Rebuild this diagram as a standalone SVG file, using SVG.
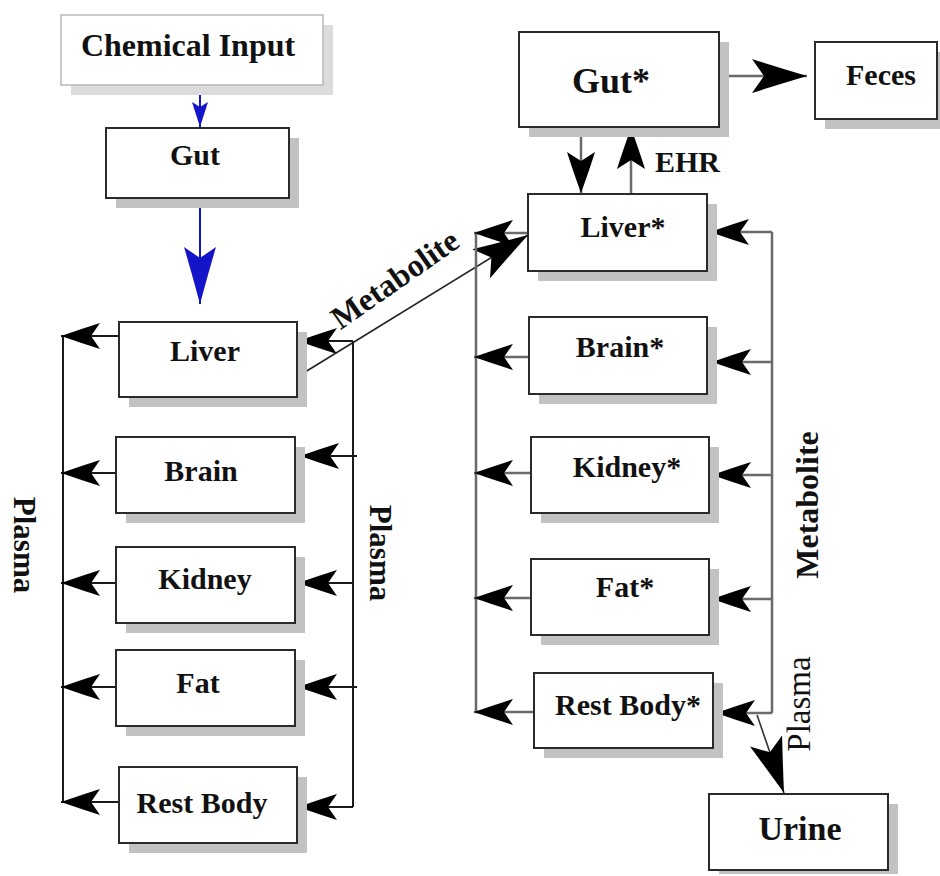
<svg xmlns="http://www.w3.org/2000/svg" width="940" height="876" viewBox="0 0 940 876">
<style>
.box{fill:#fff;stroke:#2a2a2a;stroke-width:2}
.shd{fill:#c2c2c2}
.t{font-family:"Liberation Serif","Times New Roman",serif;font-weight:bold;font-size:30px;fill:#111;text-anchor:middle}
.lk{fill:none;stroke:#1a1a1a;stroke-width:2}
.lg{fill:none;stroke:#6a6a6a;stroke-width:2.5}
.lb{fill:none;stroke:#1414c8;stroke-width:2}
</style>
<defs>
<marker id="aS" markerUnits="userSpaceOnUse" markerWidth="60" markerHeight="40" viewBox="-58 -20 60 40" refX="0" refY="0" orient="auto" overflow="visible">
<path d="M0,0 Q-20,-7 -39,-13 L-30,0 L-39,13 Q-20,7 0,0 Z" fill="#000"/>
</marker>
<marker id="aM" markerUnits="userSpaceOnUse" markerWidth="60" markerHeight="40" viewBox="-58 -20 60 40" refX="0" refY="0" orient="auto" overflow="visible">
<path d="M0,0 Q-22,-8 -41,-14 L-32,0 L-41,14 Q-22,8 0,0 Z" fill="#000"/>
</marker>
<marker id="aL" markerUnits="userSpaceOnUse" markerWidth="60" markerHeight="40" viewBox="-58 -20 60 40" refX="0" refY="0" orient="auto" overflow="visible">
<path d="M0,0 Q-30,-9 -55,-17 L-43,0 L-55,17 Q-30,9 0,0 Z" fill="#000"/>
</marker>
<marker id="bS" markerUnits="userSpaceOnUse" markerWidth="60" markerHeight="40" viewBox="-58 -20 60 40" refX="0" refY="0" orient="auto" overflow="visible">
<path d="M0,0 L-25,-8 L-20,0 L-25,8 Z" fill="#1414c8"/>
</marker>
<marker id="bL" markerUnits="userSpaceOnUse" markerWidth="60" markerHeight="40" viewBox="-58 -20 60 40" refX="0" refY="0" orient="auto" overflow="visible">
<path d="M0,0 Q-30,-8 -57,-16 L-46,0 L-57,16 Q-30,8 0,0 Z" fill="#1414c8"/>
</marker>
</defs>
<rect width="940" height="876" fill="#fff"/>

<g id="connectors">
<line class="lb" x1="200" y1="88" x2="200" y2="127" marker-end="url(#bS)"/>
<line class="lb" x1="200" y1="198" x2="200" y2="304" marker-end="url(#bL)"/>
<polyline class="lk" points="119,336 63,336 63,802"/>
<line class="lk" x1="119" y1="336" x2="61" y2="336" marker-end="url(#aS)"/>
<line class="lk" x1="116" y1="473" x2="61" y2="473" marker-end="url(#aS)"/>
<line class="lk" x1="116" y1="583" x2="61" y2="583" marker-end="url(#aS)"/>
<line class="lk" x1="116" y1="687" x2="61" y2="687" marker-end="url(#aS)"/>
<line class="lk" x1="119" y1="802" x2="61" y2="802" marker-end="url(#aS)"/>
<line class="lk" x1="353" y1="341" x2="353" y2="807"/>
<line class="lk" x1="353" y1="341" x2="298" y2="341" marker-end="url(#aS)"/>
<line class="lk" x1="357" y1="456" x2="300" y2="456" marker-end="url(#aS)"/>
<line class="lk" x1="353" y1="583" x2="298" y2="583" marker-end="url(#aS)"/>
<line class="lk" x1="357" y1="687" x2="298" y2="687" marker-end="url(#aS)"/>
<line class="lk" x1="353" y1="807" x2="298" y2="807" marker-end="url(#aS)"/>
<line x1="297" y1="377" x2="528" y2="235" stroke="#222" stroke-width="1.6" marker-end="url(#aL)"/>
<text class="t" transform="translate(401,288) rotate(-35)" style="font-size:32px">Metabolite</text>
<line class="lg" x1="476" y1="233" x2="476" y2="712"/>
<line class="lg" x1="528" y1="233" x2="474" y2="233" marker-end="url(#aS)"/>
<line class="lg" x1="529" y1="357" x2="474" y2="357" marker-end="url(#aS)"/>
<line class="lg" x1="531" y1="473" x2="474" y2="473" marker-end="url(#aS)"/>
<line class="lg" x1="531" y1="598" x2="474" y2="598" marker-end="url(#aS)"/>
<line class="lg" x1="534" y1="712" x2="474" y2="712" marker-end="url(#aS)"/>
<line class="lg" x1="772" y1="232" x2="772" y2="713"/>
<line class="lg" x1="772" y1="232" x2="710" y2="232" marker-end="url(#aS)"/>
<line class="lg" x1="772" y1="362" x2="712" y2="362" marker-end="url(#aS)"/>
<line class="lg" x1="772" y1="475" x2="712" y2="475" marker-end="url(#aS)"/>
<line class="lg" x1="772" y1="599" x2="712" y2="599" marker-end="url(#aS)"/>
<line class="lg" x1="772" y1="713" x2="716" y2="713" marker-end="url(#aS)"/>
<line x1="757" y1="715" x2="784" y2="793" stroke="#333" stroke-width="1.6" marker-end="url(#aL)"/>
<line class="lg" x1="581" y1="127" x2="581" y2="193" marker-end="url(#aM)"/>
<line class="lg" x1="631" y1="194" x2="631" y2="128" marker-end="url(#aM)"/>
<line class="lg" x1="728" y1="76" x2="807" y2="76" marker-end="url(#aL)"/>
<text class="t" x="655" y="172" style="text-anchor:start;font-size:30px">EHR</text>
<text class="t" transform="translate(14,545) rotate(90)" style="font-size:31px">Plasma</text>
<text class="t" transform="translate(370,553) rotate(90)" style="font-size:31px">Plasma</text>
<text class="t" transform="translate(818,505) rotate(-90)" style="font-size:32px">Metabolite</text>
<text class="t" transform="translate(810,704) rotate(-90)" style="font-size:33px;font-weight:normal">Plasma</text>
</g>

<g id="chemical-input">
<rect x="71" y="25" width="262" height="70" fill="#dcdcdc"/>
<rect x="61" y="15" width="262" height="70" fill="#fff" stroke="#b8b8b8" stroke-width="1.5"/>
<text class="t" x="188" y="56" style="font-size:32px">Chemical Input</text>
</g>
<g id="gut">
<rect class="shd" x="116" y="138" width="183" height="70"/>
<rect class="box" x="106" y="128" width="183" height="70"/>
<text class="t" x="195" y="165">Gut</text>
</g>
<g id="liver">
<rect class="shd" x="129" y="332" width="178" height="75"/>
<rect class="box" x="119" y="322" width="178" height="75"/>
<text class="t" x="205" y="361">Liver</text>
</g>
<g id="brain">
<rect class="shd" x="126" y="447" width="179" height="76"/>
<rect class="box" x="116" y="437" width="179" height="76"/>
<text class="t" x="201" y="481">Brain</text>
</g>
<g id="kidney">
<rect class="shd" x="126" y="557" width="179" height="76"/>
<rect class="box" x="116" y="547" width="179" height="76"/>
<text class="t" x="205" y="589">Kidney</text>
</g>
<g id="fat">
<rect class="shd" x="126" y="660" width="179" height="76"/>
<rect class="box" x="116" y="650" width="179" height="76"/>
<text class="t" x="198" y="693">Fat</text>
</g>
<g id="rest-body">
<rect class="shd" x="129" y="777" width="178" height="76"/>
<rect class="box" x="119" y="767" width="178" height="76"/>
<text class="t" x="202" y="813">Rest Body</text>
</g>

<g id="gut-star">
<rect class="shd" x="529" y="42" width="200" height="95"/>
<rect class="box" x="519" y="32" width="200" height="95"/>
<text class="t" x="611" y="93" style="font-size:36px">Gut*</text>
</g>
<g id="feces">
<rect class="shd" x="825" y="52" width="122" height="77"/>
<rect class="box" x="815" y="42" width="122" height="77"/>
<text class="t" x="881" y="85">Feces</text>
</g>
<g id="liver-star">
<rect class="shd" x="538" y="204" width="179" height="77"/>
<rect class="box" x="528" y="194" width="179" height="77"/>
<text class="t" x="623" y="237">Liver*</text>
</g>
<g id="brain-star">
<rect class="shd" x="539" y="327" width="178" height="77"/>
<rect class="box" x="529" y="317" width="178" height="77"/>
<text class="t" x="620" y="357">Brain*</text>
</g>
<g id="kidney-star">
<rect class="shd" x="541" y="447" width="178" height="76"/>
<rect class="box" x="531" y="437" width="178" height="76"/>
<text class="t" x="627" y="477">Kidney*</text>
</g>
<g id="fat-star">
<rect class="shd" x="541" y="569" width="178" height="76"/>
<rect class="box" x="531" y="559" width="178" height="76"/>
<text class="t" x="625" y="597">Fat*</text>
</g>
<g id="rest-body-star">
<rect class="shd" x="544" y="683" width="179" height="75"/>
<rect class="box" x="534" y="673" width="179" height="75"/>
<text class="t" x="628" y="715">Rest Body*</text>
</g>
<g id="urine">
<rect class="shd" x="719" y="804" width="179" height="70"/>
<rect class="box" x="709" y="794" width="179" height="76"/>
<text class="t" x="800" y="840" style="font-size:34px">Urine</text>
</g>
</svg>
